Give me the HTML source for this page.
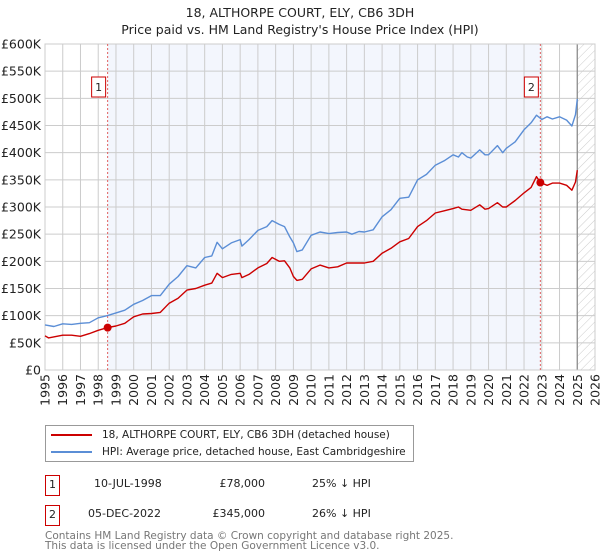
<!DOCTYPE html>
<html><head><meta charset="utf-8"><style>
body{margin:0;background:#fff;font-family:"DejaVu Sans","Liberation Sans",sans-serif;}
#wrap{position:relative;width:600px;height:560px;overflow:hidden;}
.t{position:absolute;white-space:nowrap;}
</style></head><body>
<div id="wrap">
<div class="t" style="left:0;width:600px;text-align:center;top:4px;font-size:12.5px;line-height:17px;color:#222">18, ALTHORPE COURT, ELY, CB6 3DH<br>Price paid vs. HM Land Registry's House Price Index (HPI)</div>
<svg id="chart" width="600" height="415" style="position:absolute;left:0;top:0"></svg>
<div style="position:absolute;left:45px;top:425px;width:367px;height:35px;border:1px solid #999;font-size:10.5px;color:#222">
 <div style="position:absolute;left:5px;top:3px;white-space:nowrap"><span style="display:inline-block;width:41px;height:2px;background:#cc0000;vertical-align:middle;margin-right:10px"></span>18, ALTHORPE COURT, ELY, CB6 3DH (detached house)</div>
 <div style="position:absolute;left:5px;top:20px;white-space:nowrap"><span style="display:inline-block;width:41px;height:2px;background:#5b8ed6;vertical-align:middle;margin-right:10px"></span>HPI: Average price, detached house, East Cambridgeshire</div>
</div>
<div style="position:absolute;left:0;top:475px;width:600px;font-size:11px;color:#222">
 <div class="t" style="left:45px;top:0;width:13px;height:19px;border:1px solid #cc0000;text-align:center;line-height:17px">1</div>
 <div class="t" style="left:94px;top:2px">10-JUL-1998</div>
 <div class="t" style="left:200px;width:65px;text-align:right;top:2px">£78,000</div>
 <div class="t" style="left:312px;top:2px">25% ↓ HPI</div>
</div>
<div style="position:absolute;left:0;top:505px;width:600px;font-size:11px;color:#222">
 <div class="t" style="left:45px;top:0;width:13px;height:19px;border:1px solid #cc0000;text-align:center;line-height:17px">2</div>
 <div class="t" style="left:88px;top:2px">05-DEC-2022</div>
 <div class="t" style="left:200px;width:65px;text-align:right;top:2px">£345,000</div>
 <div class="t" style="left:312px;top:2px">26% ↓ HPI</div>
</div>
<div class="t" style="left:45px;top:531px;font-size:10.5px;line-height:10px;color:#777">Contains HM Land Registry data © Crown copyright and database right 2025.<br>This data is licensed under the Open Government Licence v3.0.</div>
</div>
<script>
const hpiYears=[1995,1995.5,1996,1996.5,1997,1997.5,1998,1998.5,1999,1999.5,2000,2000.5,2001,2001.5,2002,2002.5,2003,2003.5,2004,2004.4,2004.7,2005,2005.5,2006,2006.1,2006.5,2007,2007.5,2007.8,2008.2,2008.5,2008.8,2009,2009.2,2009.5,2010,2010.5,2011,2011.5,2012,2012.3,2012.7,2013,2013.5,2014,2014.5,2015,2015.5,2016,2016.5,2017,2017.5,2018,2018.3,2018.5,2018.8,2019,2019.5,2019.8,2020,2020.5,2020.8,2021,2021.5,2022,2022.4,2022.7,2023,2023.3,2023.6,2024,2024.4,2024.7,2024.9,2025];
const hpiValues=[83,80,85,84,86,87,96,100,105,110,121,128,137,137,158,172,192,188,207,210,235,223,234,240,228,240,257,264,275,268,264,245,234,218,221,248,254,251,253,254,250,255,254,258,282,295,316,318,350,360,377,385,396,392,400,392,390,405,396,396,413,400,408,420,442,455,469,461,466,462,466,460,449,470,499];
const ppYears=[1995,1995.2,1996,1996.5,1997,1997.5,1998,1998.53,1999,1999.5,2000,2000.5,2001,2001.5,2002,2002.5,2003,2003.5,2004,2004.4,2004.7,2005,2005.5,2006,2006.1,2006.5,2007,2007.5,2007.8,2008.2,2008.5,2008.8,2009,2009.2,2009.5,2010,2010.5,2011,2011.5,2012,2012.5,2013,2013.5,2014,2014.5,2015,2015.5,2016,2016.5,2017,2017.5,2018,2018.3,2018.5,2019,2019.5,2019.8,2020,2020.5,2020.8,2021,2021.5,2022,2022.4,2022.7,2022.92,2023,2023.3,2023.6,2024,2024.4,2024.7,2024.9,2025];
const ppValues=[63,59,64,64,62,67,73,78,81,86,98,103,104,106,123,132,147,150,156,160,178,170,176,178,170,176,188,196,207,200,201,188,172,165,167,186,193,188,190,197,197,197,200,215,224,236,242,264,275,289,293,297,300,296,294,304,296,297,308,300,300,312,326,336,356,345,344,340,344,344,340,331,346,368];
const yTicks=[0,50,100,150,200,250,300,350,400,450,500,550,600];
const yTickLabels=["£0","£50K","£100K","£150K","£200K","£250K","£300K","£350K","£400K","£450K","£500K","£550K","£600K"];
const xTicks=[1995,1996,1997,1998,1999,2000,2001,2002,2003,2004,2005,2006,2007,2008,2009,2010,2011,2012,2013,2014,2015,2016,2017,2018,2019,2020,2021,2022,2023,2024,2025,2026];
const saleYears=[1998.53,2022.92];
const saleValues=[78,345];
const saleLabels=["1","2"];
const L=45,R=595,T=44,B=370;
const X=y=>L+(y-1995)/(2026-1995)*(R-L);
const Y=v=>B-v/600*(B-T);
const NS="http://www.w3.org/2000/svg";
const svg=document.getElementById('chart');
function mk(tag,attrs,parent){const e=document.createElementNS(NS,tag);for(const k in attrs)e.setAttribute(k,attrs[k]);(parent||svg).appendChild(e);return e;}
const defs=mk('defs',{});
const pat=mk('pattern',{id:'hatch',width:6,height:6,patternUnits:'userSpaceOnUse',patternTransform:'rotate(45)'},defs);
mk('line',{x1:0,y1:0,x2:0,y2:6,stroke:'#ccc','stroke-width':1},pat);
let e;
e=mk('rect',{x:L,y:T,width:R-L,height:B-T,fill:'#fff'});

e=mk('rect',{x:X(saleYears[0]),y:T,width:X(saleYears[1])-X(saleYears[0]),height:B-T,fill:'#f3f6fd'});

e=mk('rect',{x:X(2025),y:T,width:R-X(2025),height:B-T,fill:'url(#hatch)'});

yTicks.forEach((v,i)=>{
 const g=mk('line',{x1:L,x2:R,y1:Y(v),y2:Y(v),stroke:'#ccc','stroke-width':1});
 
 const t=mk('text',{x:L-4,y:Y(v)+4.5,'text-anchor':'end','font-size':12.5,fill:'#222'});
 t.textContent=yTickLabels[i];
 
});
xTicks.forEach(yr=>{
 const g=mk('line',{x1:X(yr),x2:X(yr),y1:T,y2:B,stroke:'#ccc','stroke-width':1});
 
 const t=mk('text',{x:0,y:0,'text-anchor':'end','font-size':12.5,fill:'#222',transform:`translate(${X(yr)+4.5},${B+4}) rotate(-90)`});
 t.textContent=yr;
 
});
e=mk('line',{x1:X(2025),x2:X(2025),y1:T,y2:B,stroke:'#888','stroke-width':1.2});

e=mk('rect',{x:L,y:T,width:R-L,height:B-T,fill:'none',stroke:'#ccc'});

saleYears.forEach((yr,i)=>{
 const l=mk('line',{x1:X(yr),x2:X(yr),y1:T,y2:B,stroke:'#e06060','stroke-width':1,'stroke-dasharray':'2,2'});
 
});
function path(xs,vs,col,name){
 const d=xs.map((x,i)=>(i?'L':'M')+X(x).toFixed(1)+','+Y(vs[i]).toFixed(1)).join('');
 const p=mk('path',{d:d,fill:'none',stroke:col,'stroke-width':1.4,'stroke-linejoin':'round'});
 
}
path(hpiYears,hpiValues,'#5b8ed6','hpi-line');
path(ppYears,ppValues,'#cc0000','price-paid-line');
saleYears.forEach((yr,i)=>{
 const c=mk('circle',{cx:X(yr),cy:Y(saleValues[i]),r:4,fill:'#cc0000'});
 
 const bx=mk('rect',{x:X(yr)-16,y:T+33,width:14,height:20,fill:'#fff',stroke:'#cc0000'});
 
 const t=mk('text',{x:X(yr)-9,y:T+47,'text-anchor':'middle','font-size':11,fill:'#222'});
 t.textContent=saleLabels[i];
 
});
</script>
</body></html>
